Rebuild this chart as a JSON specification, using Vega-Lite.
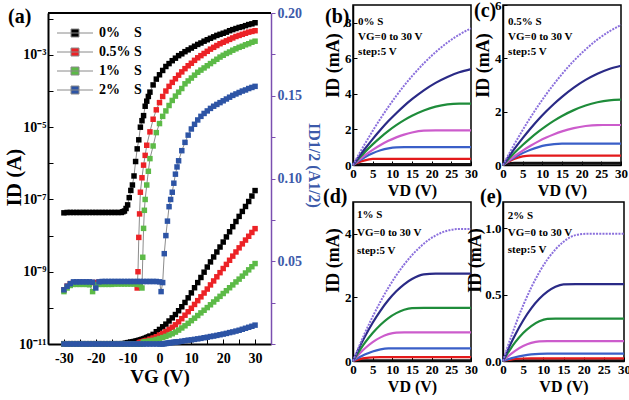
{
"$schema":"https://vega.github.io/schema/vega-lite/v6.json",
"padding":{"left":3,"top":-2,"right":0,"bottom":0},
"config":{
 "font":"Liberation Serif",
 "view":{"stroke":"black","strokeWidth":1.5},
 "axis":{"grid":false,"domainColor":"black","domainWidth":1.5,"tickColor":"black","tickSize":-4,"labelFontWeight":"bold","titleFontWeight":"bold","labelColor":"black","titleColor":"black","labelFontSize":13,"titleFontSize":18,"labelPadding":6,"titlePadding":2,"labelFont":"Liberation Serif","titleFont":"Liberation Serif","labelOverlap":false,"tickCount":100},
 "axisX":{"titleFontSize":16,"labelFlush":false},
 "title":{"font":"Liberation Serif","fontWeight":"bold","fontSize":20,"anchor":"start","offset":0,"frame":"group","color":"black"},
 "text":{"font":"Liberation Serif"}
},
"datasets":{
"a":[
{"s":"0%","v":-30,"l":-7.37,"q":0.0002},{"s":"0%","v":-29,"l":-7.36,"q":0.0002},{"s":"0%","v":-28,"l":-7.36,"q":0.0002},{"s":"0%","v":-27,"l":-7.36,"q":0.0002},{"s":"0%","v":-26,"l":-7.36,"q":0.0002},{"s":"0%","v":-25,"l":-7.36,"q":0.0002},{"s":"0%","v":-24,"l":-7.36,"q":0.0002},{"s":"0%","v":-23,"l":-7.36,"q":0.0002},{"s":"0%","v":-22,"l":-7.36,"q":0.0002},{"s":"0%","v":-21,"l":-7.36,"q":0.0002},{"s":"0%","v":-20,"l":-7.36,"q":0.0002},{"s":"0%","v":-19,"l":-7.36,"q":0.0002},{"s":"0%","v":-18,"l":-7.36,"q":0.0002},{"s":"0%","v":-17,"l":-7.36,"q":0.0002},{"s":"0%","v":-16,"l":-7.36,"q":0.0002},{"s":"0%","v":-15,"l":-7.36,"q":0.0002},{"s":"0%","v":-14,"l":-7.36,"q":0.0002},{"s":"0%","v":-13,"l":-7.36,"q":0.0002},{"s":"0%","v":-12,"l":-7.36,"q":0.0002},{"s":"0%","v":-11.5,"l":-7.34,"q":0.0002},{"s":"0%","v":-11,"l":-7.32,"q":0.0003},{"s":"0%","v":-10.5,"l":-7.25,"q":0.0005},{"s":"0%","v":-10,"l":-7.15,"q":0.0008},{"s":"0%","v":-9.5,"l":-6.95,"q":0.0009},{"s":"0%","v":-9,"l":-6.75,"q":0.0011},{"s":"0%","v":-8.5,"l":-6.6,"q":0.0013},{"s":"0%","v":-8,"l":-6.35,"q":0.0015},{"s":"0%","v":-7.5,"l":-5.95,"q":0.0017},{"s":"0%","v":-7,"l":-5.6,"q":0.002},{"s":"0%","v":-6.5,"l":-5.35,"q":0.0022},{"s":"0%","v":-6,"l":-5.0,"q":0.0025},{"s":"0%","v":-5.5,"l":-4.82,"q":0.0028},{"s":"0%","v":-5,"l":-4.68,"q":0.0031},{"s":"0%","v":-4.5,"l":-4.42,"q":0.0035},{"s":"0%","v":-4,"l":-4.28,"q":0.0039},{"s":"0%","v":-3.5,"l":-4.15,"q":0.0043},{"s":"0%","v":-3,"l":-4.03,"q":0.0048},{"s":"0%","v":-2,"l":-3.83,"q":0.0058},{"s":"0%","v":-1,"l":-3.67,"q":0.0074},{"s":"0%","v":0,"l":-3.55,"q":0.0088},{"s":"0%","v":1,"l":-3.43,"q":0.0104},{"s":"0%","v":2,"l":-3.32,"q":0.012},{"s":"0%","v":3,"l":-3.24,"q":0.0139},{"s":"0%","v":4,"l":-3.16,"q":0.0158},{"s":"0%","v":5,"l":-3.09,"q":0.0178},{"s":"0%","v":6,"l":-3.02,"q":0.0201},{"s":"0%","v":7,"l":-2.97,"q":0.0225},{"s":"0%","v":8,"l":-2.91,"q":0.0251},{"s":"0%","v":9,"l":-2.86,"q":0.0279},{"s":"0%","v":10,"l":-2.81,"q":0.0309},{"s":"0%","v":11,"l":-2.76,"q":0.034},{"s":"0%","v":12,"l":-2.71,"q":0.0371},{"s":"0%","v":13,"l":-2.67,"q":0.0402},{"s":"0%","v":14,"l":-2.62,"q":0.0434},{"s":"0%","v":15,"l":-2.58,"q":0.0465},{"s":"0%","v":16,"l":-2.54,"q":0.0496},{"s":"0%","v":17,"l":-2.5,"q":0.0526},{"s":"0%","v":18,"l":-2.46,"q":0.0556},{"s":"0%","v":19,"l":-2.43,"q":0.0586},{"s":"0%","v":20,"l":-2.4,"q":0.0616},{"s":"0%","v":21,"l":-2.37,"q":0.0647},{"s":"0%","v":22,"l":-2.33,"q":0.0678},{"s":"0%","v":23,"l":-2.3,"q":0.0709},{"s":"0%","v":24,"l":-2.27,"q":0.074},{"s":"0%","v":25,"l":-2.24,"q":0.0771},{"s":"0%","v":26,"l":-2.22,"q":0.0801},{"s":"0%","v":27,"l":-2.19,"q":0.0831},{"s":"0%","v":28,"l":-2.16,"q":0.0861},{"s":"0%","v":29,"l":-2.14,"q":0.0894},{"s":"0%","v":30,"l":-2.11,"q":0.0927},
{"s":"0.5%","v":-30,"l":-9.5,"q":0},{"s":"0.5%","v":-29,"l":-9.4,"q":0},{"s":"0.5%","v":-28,"l":-9.33,"q":0},{"s":"0.5%","v":-27,"l":-9.31,"q":0},{"s":"0.5%","v":-26,"l":-9.3,"q":0},{"s":"0.5%","v":-25,"l":-9.3,"q":0},{"s":"0.5%","v":-24,"l":-9.3,"q":0},{"s":"0.5%","v":-23,"l":-9.3,"q":0},{"s":"0.5%","v":-22,"l":-9.3,"q":0},{"s":"0.5%","v":-21,"l":-9.3,"q":0},{"s":"0.5%","v":-20,"l":-9.3,"q":0},{"s":"0.5%","v":-19,"l":-9.29,"q":0},{"s":"0.5%","v":-18,"l":-9.29,"q":0},{"s":"0.5%","v":-17,"l":-9.29,"q":0},{"s":"0.5%","v":-16,"l":-9.29,"q":0},{"s":"0.5%","v":-15,"l":-9.29,"q":0},{"s":"0.5%","v":-14,"l":-9.29,"q":0},{"s":"0.5%","v":-13,"l":-9.28,"q":0},{"s":"0.5%","v":-12,"l":-9.28,"q":0},{"s":"0.5%","v":-11,"l":-9.28,"q":0},{"s":"0.5%","v":-10,"l":-9.28,"q":0},{"s":"0.5%","v":-9,"l":-9.28,"q":0},{"s":"0.5%","v":-8,"l":-9.29,"q":0},{"s":"0.5%","v":-7.5,"l":-9.3,"q":0},{"s":"0.5%","v":-7,"l":-9.45,"q":0},{"s":"0.5%","v":-6.75,"l":-9.0,"q":0.0002},{"s":"0.5%","v":-6.5,"l":-8.05,"q":0.0004},{"s":"0.5%","v":-6.25,"l":-7.4,"q":0.0007},{"s":"0.5%","v":-6,"l":-6.8,"q":0.0011},{"s":"0.5%","v":-5.5,"l":-6.4,"q":0.0013},{"s":"0.5%","v":-5,"l":-6.05,"q":0.0016},{"s":"0.5%","v":-4.5,"l":-5.78,"q":0.0019},{"s":"0.5%","v":-4,"l":-5.5,"q":0.0022},{"s":"0.5%","v":-3,"l":-5.13,"q":0.0029},{"s":"0.5%","v":-2,"l":-4.78,"q":0.0036},{"s":"0.5%","v":-1,"l":-4.52,"q":0.0044},{"s":"0.5%","v":0,"l":-4.32,"q":0.0054},{"s":"0.5%","v":1,"l":-4.15,"q":0.0064},{"s":"0.5%","v":2,"l":-4.0,"q":0.0075},{"s":"0.5%","v":3,"l":-3.87,"q":0.0088},{"s":"0.5%","v":4,"l":-3.76,"q":0.0101},{"s":"0.5%","v":5,"l":-3.66,"q":0.0116},{"s":"0.5%","v":6,"l":-3.56,"q":0.0134},{"s":"0.5%","v":7,"l":-3.47,"q":0.0153},{"s":"0.5%","v":8,"l":-3.38,"q":0.0174},{"s":"0.5%","v":9,"l":-3.3,"q":0.0195},{"s":"0.5%","v":10,"l":-3.23,"q":0.0216},{"s":"0.5%","v":11,"l":-3.15,"q":0.0239},{"s":"0.5%","v":12,"l":-3.08,"q":0.0262},{"s":"0.5%","v":13,"l":-3.02,"q":0.0285},{"s":"0.5%","v":14,"l":-2.96,"q":0.0308},{"s":"0.5%","v":15,"l":-2.9,"q":0.0332},{"s":"0.5%","v":16,"l":-2.84,"q":0.0357},{"s":"0.5%","v":17,"l":-2.79,"q":0.0381},{"s":"0.5%","v":18,"l":-2.74,"q":0.0406},{"s":"0.5%","v":19,"l":-2.69,"q":0.0431},{"s":"0.5%","v":20,"l":-2.65,"q":0.0456},{"s":"0.5%","v":21,"l":-2.61,"q":0.0481},{"s":"0.5%","v":22,"l":-2.57,"q":0.0506},{"s":"0.5%","v":23,"l":-2.53,"q":0.0531},{"s":"0.5%","v":24,"l":-2.49,"q":0.0556},{"s":"0.5%","v":25,"l":-2.46,"q":0.0581},{"s":"0.5%","v":26,"l":-2.43,"q":0.0605},{"s":"0.5%","v":27,"l":-2.4,"q":0.0628},{"s":"0.5%","v":28,"l":-2.37,"q":0.0651},{"s":"0.5%","v":29,"l":-2.35,"q":0.0674},{"s":"0.5%","v":30,"l":-2.33,"q":0.0697},
{"s":"1%","v":-30,"l":-9.55,"q":0},{"s":"1%","v":-29,"l":-9.45,"q":0},{"s":"1%","v":-28,"l":-9.38,"q":0},{"s":"1%","v":-27,"l":-9.35,"q":0},{"s":"1%","v":-26,"l":-9.35,"q":0},{"s":"1%","v":-25,"l":-9.35,"q":0},{"s":"1%","v":-24,"l":-9.35,"q":0},{"s":"1%","v":-23,"l":-9.35,"q":0},{"s":"1%","v":-22,"l":-9.36,"q":0},{"s":"1%","v":-21,"l":-9.55,"q":0},{"s":"1%","v":-20,"l":-9.36,"q":0},{"s":"1%","v":-19,"l":-9.35,"q":0},{"s":"1%","v":-18,"l":-9.35,"q":0},{"s":"1%","v":-17,"l":-9.35,"q":0},{"s":"1%","v":-16,"l":-9.35,"q":0},{"s":"1%","v":-15,"l":-9.35,"q":0},{"s":"1%","v":-14,"l":-9.34,"q":0},{"s":"1%","v":-13,"l":-9.34,"q":0},{"s":"1%","v":-12,"l":-9.34,"q":0},{"s":"1%","v":-11,"l":-9.34,"q":0},{"s":"1%","v":-10,"l":-9.34,"q":0},{"s":"1%","v":-9,"l":-9.34,"q":0},{"s":"1%","v":-8,"l":-9.34,"q":0},{"s":"1%","v":-7,"l":-9.35,"q":0},{"s":"1%","v":-6,"l":-9.36,"q":0},{"s":"1%","v":-5.5,"l":-9.45,"q":0},{"s":"1%","v":-5.25,"l":-8.6,"q":0.0004},{"s":"1%","v":-5,"l":-7.8,"q":0.0011},{"s":"1%","v":-4.75,"l":-7.3,"q":0.0012},{"s":"1%","v":-4.5,"l":-7.0,"q":0.0013},{"s":"1%","v":-4,"l":-6.6,"q":0.0014},{"s":"1%","v":-3.5,"l":-6.22,"q":0.0016},{"s":"1%","v":-3,"l":-5.87,"q":0.0018},{"s":"1%","v":-2,"l":-5.52,"q":0.0022},{"s":"1%","v":-1,"l":-5.15,"q":0.0027},{"s":"1%","v":0,"l":-4.9,"q":0.0033},{"s":"1%","v":1,"l":-4.7,"q":0.0039},{"s":"1%","v":2,"l":-4.55,"q":0.0046},{"s":"1%","v":3,"l":-4.4,"q":0.0054},{"s":"1%","v":4,"l":-4.26,"q":0.0062},{"s":"1%","v":5,"l":-4.14,"q":0.0072},{"s":"1%","v":6,"l":-4.03,"q":0.0084},{"s":"1%","v":7,"l":-3.93,"q":0.0097},{"s":"1%","v":8,"l":-3.8,"q":0.011},{"s":"1%","v":9,"l":-3.72,"q":0.0125},{"s":"1%","v":10,"l":-3.64,"q":0.0141},{"s":"1%","v":11,"l":-3.56,"q":0.0156},{"s":"1%","v":12,"l":-3.48,"q":0.0172},{"s":"1%","v":13,"l":-3.42,"q":0.0188},{"s":"1%","v":14,"l":-3.36,"q":0.0204},{"s":"1%","v":15,"l":-3.3,"q":0.022},{"s":"1%","v":16,"l":-3.24,"q":0.0237},{"s":"1%","v":17,"l":-3.18,"q":0.0254},{"s":"1%","v":18,"l":-3.12,"q":0.0271},{"s":"1%","v":19,"l":-3.06,"q":0.0288},{"s":"1%","v":20,"l":-3.01,"q":0.0305},{"s":"1%","v":21,"l":-2.96,"q":0.0322},{"s":"1%","v":22,"l":-2.92,"q":0.034},{"s":"1%","v":23,"l":-2.87,"q":0.0357},{"s":"1%","v":24,"l":-2.83,"q":0.0375},{"s":"1%","v":25,"l":-2.79,"q":0.0392},{"s":"1%","v":26,"l":-2.76,"q":0.041},{"s":"1%","v":27,"l":-2.72,"q":0.0429},{"s":"1%","v":28,"l":-2.69,"q":0.0448},{"s":"1%","v":29,"l":-2.65,"q":0.0467},{"s":"1%","v":30,"l":-2.62,"q":0.0486},
{"s":"2%","v":-30,"l":-9.5,"q":0},{"s":"2%","v":-29,"l":-9.4,"q":0},{"s":"2%","v":-28,"l":-9.33,"q":0},{"s":"2%","v":-27,"l":-9.28,"q":0},{"s":"2%","v":-26,"l":-9.28,"q":0},{"s":"2%","v":-25,"l":-9.28,"q":0},{"s":"2%","v":-24,"l":-9.28,"q":0},{"s":"2%","v":-23,"l":-9.28,"q":0},{"s":"2%","v":-22,"l":-9.28,"q":0},{"s":"2%","v":-21,"l":-9.29,"q":0},{"s":"2%","v":-20,"l":-9.45,"q":0},{"s":"2%","v":-19,"l":-9.28,"q":0},{"s":"2%","v":-18,"l":-9.27,"q":0},{"s":"2%","v":-17,"l":-9.27,"q":0},{"s":"2%","v":-16,"l":-9.27,"q":0},{"s":"2%","v":-15,"l":-9.27,"q":0},{"s":"2%","v":-14,"l":-9.27,"q":0},{"s":"2%","v":-13,"l":-9.27,"q":0},{"s":"2%","v":-12,"l":-9.27,"q":0},{"s":"2%","v":-11,"l":-9.27,"q":0},{"s":"2%","v":-10,"l":-9.27,"q":0},{"s":"2%","v":-9,"l":-9.27,"q":0},{"s":"2%","v":-8,"l":-9.27,"q":0},{"s":"2%","v":-7,"l":-9.27,"q":0},{"s":"2%","v":-6,"l":-9.27,"q":0},{"s":"2%","v":-5,"l":-9.27,"q":0},{"s":"2%","v":-4,"l":-9.27,"q":0},{"s":"2%","v":-3,"l":-9.27,"q":0},{"s":"2%","v":-2,"l":-9.27,"q":0},{"s":"2%","v":-1,"l":-9.27,"q":0},{"s":"2%","v":0,"l":-9.28,"q":0},{"s":"2%","v":0.5,"l":-9.55,"q":0},{"s":"2%","v":1,"l":-9.3,"q":0},{"s":"2%","v":1.5,"l":-8.5,"q":0.0002},{"s":"2%","v":2,"l":-8.0,"q":0.0003},{"s":"2%","v":2.5,"l":-7.6,"q":0.0005},{"s":"2%","v":3,"l":-7.2,"q":0.0007},{"s":"2%","v":3.5,"l":-7.0,"q":0.0008},{"s":"2%","v":4,"l":-6.8,"q":0.0009},{"s":"2%","v":4.5,"l":-6.55,"q":0.001},{"s":"2%","v":5,"l":-6.3,"q":0.0012},{"s":"2%","v":5.5,"l":-6.1,"q":0.0013},{"s":"2%","v":6,"l":-5.93,"q":0.0014},{"s":"2%","v":7,"l":-5.65,"q":0.0017},{"s":"2%","v":8,"l":-5.42,"q":0.002},{"s":"2%","v":9,"l":-5.22,"q":0.0023},{"s":"2%","v":10,"l":-5.05,"q":0.0025},{"s":"2%","v":11,"l":-4.92,"q":0.0028},{"s":"2%","v":12,"l":-4.8,"q":0.0031},{"s":"2%","v":13,"l":-4.7,"q":0.0034},{"s":"2%","v":14,"l":-4.62,"q":0.0038},{"s":"2%","v":15,"l":-4.55,"q":0.0041},{"s":"2%","v":16,"l":-4.48,"q":0.0045},{"s":"2%","v":17,"l":-4.42,"q":0.0048},{"s":"2%","v":18,"l":-4.37,"q":0.0052},{"s":"2%","v":19,"l":-4.32,"q":0.0056},{"s":"2%","v":20,"l":-4.27,"q":0.006},{"s":"2%","v":21,"l":-4.22,"q":0.0064},{"s":"2%","v":22,"l":-4.17,"q":0.0069},{"s":"2%","v":23,"l":-4.12,"q":0.0073},{"s":"2%","v":24,"l":-4.08,"q":0.0078},{"s":"2%","v":25,"l":-4.04,"q":0.0083},{"s":"2%","v":26,"l":-4.0,"q":0.0089},{"s":"2%","v":27,"l":-3.97,"q":0.0095},{"s":"2%","v":28,"l":-3.93,"q":0.0101},{"s":"2%","v":29,"l":-3.9,"q":0.0107},{"s":"2%","v":30,"l":-3.87,"q":0.0114}
],
"b":[
{"g":0,"v":0,"i":0},{"g":0,"v":1,"i":0.028},{"g":0,"v":2,"i":0.044},{"g":0,"v":3,"i":0.05},{"g":0,"v":5,"i":0.05},{"g":0,"v":7,"i":0.05},{"g":0,"v":9,"i":0.05},{"g":0,"v":11,"i":0.05},{"g":0,"v":13,"i":0.05},{"g":0,"v":15,"i":0.05},{"g":0,"v":18,"i":0.05},{"g":0,"v":21,"i":0.05},{"g":0,"v":24,"i":0.05},{"g":0,"v":27,"i":0.05},{"g":0,"v":30,"i":0.05},
{"g":5,"v":0,"i":0},{"g":5,"v":1,"i":0.107},{"g":5,"v":2,"i":0.195},{"g":5,"v":3,"i":0.263},{"g":5,"v":5,"i":0.34},{"g":5,"v":7,"i":0.35},{"g":5,"v":9,"i":0.35},{"g":5,"v":11,"i":0.35},{"g":5,"v":13,"i":0.35},{"g":5,"v":15,"i":0.35},{"g":5,"v":18,"i":0.35},{"g":5,"v":21,"i":0.35},{"g":5,"v":24,"i":0.35},{"g":5,"v":27,"i":0.35},{"g":5,"v":30,"i":0.35},
{"g":10,"v":0,"i":0},{"g":10,"v":1,"i":0.16},{"g":10,"v":2,"i":0.306},{"g":10,"v":3,"i":0.438},{"g":10,"v":5,"i":0.66},{"g":10,"v":7,"i":0.826},{"g":10,"v":9,"i":0.938},{"g":10,"v":11,"i":0.993},{"g":10,"v":13,"i":1},{"g":10,"v":15,"i":1},{"g":10,"v":18,"i":1},{"g":10,"v":21,"i":1},{"g":10,"v":24,"i":1},{"g":10,"v":27,"i":1},{"g":10,"v":30,"i":1},
{"g":15,"v":0,"i":0},{"g":15,"v":1,"i":0.19},{"g":15,"v":2,"i":0.371},{"g":15,"v":3,"i":0.541},{"g":15,"v":5,"i":0.853},{"g":15,"v":7,"i":1.126},{"g":15,"v":9,"i":1.36},{"g":15,"v":11,"i":1.555},{"g":15,"v":13,"i":1.711},{"g":15,"v":15,"i":1.828},{"g":15,"v":18,"i":1.931},{"g":15,"v":21,"i":1.95},{"g":15,"v":24,"i":1.95},{"g":15,"v":27,"i":1.95},{"g":15,"v":30,"i":1.95},
{"g":20,"v":0,"i":0},{"g":20,"v":1,"i":0.251},{"g":20,"v":2,"i":0.492},{"g":20,"v":3,"i":0.725},{"g":20,"v":5,"i":1.159},{"g":20,"v":7,"i":1.556},{"g":20,"v":9,"i":1.918},{"g":20,"v":11,"i":2.239},{"g":20,"v":13,"i":2.522},{"g":20,"v":15,"i":2.767},{"g":20,"v":18,"i":3.067},{"g":20,"v":21,"i":3.281},{"g":20,"v":24,"i":3.409},{"g":20,"v":27,"i":3.45},{"g":20,"v":30,"i":3.45},
{"g":25,"v":0,"i":0},{"g":25,"v":1,"i":0.31},{"g":25,"v":2,"i":0.61},{"g":25,"v":3,"i":0.9},{"g":25,"v":5,"i":1.458},{"g":25,"v":7,"i":1.98},{"g":25,"v":9,"i":2.47},{"g":25,"v":11,"i":2.915},{"g":25,"v":13,"i":3.328},{"g":25,"v":15,"i":3.7},{"g":25,"v":18,"i":4.2},{"g":25,"v":21,"i":4.62},{"g":25,"v":24,"i":4.956},{"g":25,"v":27,"i":5.214},{"g":25,"v":30,"i":5.39},
{"g":30,"v":0,"i":0},{"g":30,"v":1,"i":0.405},{"g":30,"v":2,"i":0.8},{"g":30,"v":3,"i":1.18},{"g":30,"v":5,"i":1.919},{"g":30,"v":7,"i":2.616},{"g":30,"v":9,"i":3.272},{"g":30,"v":11,"i":3.887},{"g":30,"v":13,"i":4.461},{"g":30,"v":15,"i":4.994},{"g":30,"v":18,"i":5.72},{"g":30,"v":21,"i":6.347},{"g":30,"v":24,"i":6.888},{"g":30,"v":27,"i":7.331},{"g":30,"v":30,"i":7.688}
],
"c":[
{"g":0,"v":0,"i":0},{"g":0,"v":1,"i":0.044},{"g":0,"v":2,"i":0.071},{"g":0,"v":3,"i":0.08},{"g":0,"v":5,"i":0.08},{"g":0,"v":7,"i":0.08},{"g":0,"v":9,"i":0.08},{"g":0,"v":11,"i":0.08},{"g":0,"v":13,"i":0.08},{"g":0,"v":15,"i":0.08},{"g":0,"v":18,"i":0.08},{"g":0,"v":21,"i":0.08},{"g":0,"v":24,"i":0.08},{"g":0,"v":27,"i":0.08},{"g":0,"v":30,"i":0.08},
{"g":5,"v":0,"i":0},{"g":5,"v":1,"i":0.093},{"g":5,"v":2,"i":0.172},{"g":5,"v":3,"i":0.236},{"g":5,"v":5,"i":0.321},{"g":5,"v":7,"i":0.35},{"g":5,"v":9,"i":0.35},{"g":5,"v":11,"i":0.35},{"g":5,"v":13,"i":0.35},{"g":5,"v":15,"i":0.35},{"g":5,"v":18,"i":0.35},{"g":5,"v":21,"i":0.35},{"g":5,"v":24,"i":0.35},{"g":5,"v":27,"i":0.35},{"g":5,"v":30,"i":0.35},
{"g":10,"v":0,"i":0},{"g":10,"v":1,"i":0.103},{"g":10,"v":2,"i":0.199},{"g":10,"v":3,"i":0.288},{"g":10,"v":5,"i":0.445},{"g":10,"v":7,"i":0.573},{"g":10,"v":9,"i":0.672},{"g":10,"v":11,"i":0.743},{"g":10,"v":13,"i":0.786},{"g":10,"v":15,"i":0.8},{"g":10,"v":18,"i":0.8},{"g":10,"v":21,"i":0.8},{"g":10,"v":24,"i":0.8},{"g":10,"v":27,"i":0.8},{"g":10,"v":30,"i":0.8},
{"g":15,"v":0,"i":0},{"g":15,"v":1,"i":0.118},{"g":15,"v":2,"i":0.23},{"g":15,"v":3,"i":0.338},{"g":15,"v":5,"i":0.54},{"g":15,"v":7,"i":0.722},{"g":15,"v":9,"i":0.886},{"g":15,"v":11,"i":1.03},{"g":15,"v":13,"i":1.154},{"g":15,"v":15,"i":1.26},{"g":15,"v":18,"i":1.382},{"g":15,"v":21,"i":1.462},{"g":15,"v":24,"i":1.498},{"g":15,"v":27,"i":1.5},{"g":15,"v":30,"i":1.5},
{"g":20,"v":0,"i":0},{"g":20,"v":1,"i":0.161},{"g":20,"v":2,"i":0.316},{"g":20,"v":3,"i":0.466},{"g":20,"v":5,"i":0.75},{"g":20,"v":7,"i":1.01},{"g":20,"v":9,"i":1.25},{"g":20,"v":11,"i":1.468},{"g":20,"v":13,"i":1.664},{"g":20,"v":15,"i":1.838},{"g":20,"v":18,"i":2.058},{"g":20,"v":21,"i":2.23},{"g":20,"v":24,"i":2.352},{"g":20,"v":27,"i":2.426},{"g":20,"v":30,"i":2.45},
{"g":25,"v":0,"i":0},{"g":25,"v":1,"i":0.214},{"g":25,"v":2,"i":0.422},{"g":25,"v":3,"i":0.623},{"g":25,"v":5,"i":1.007},{"g":25,"v":7,"i":1.368},{"g":25,"v":9,"i":1.706},{"g":25,"v":11,"i":2.014},{"g":25,"v":13,"i":2.299},{"g":25,"v":15,"i":2.557},{"g":25,"v":18,"i":2.903},{"g":25,"v":21,"i":3.192},{"g":25,"v":24,"i":3.424},{"g":25,"v":27,"i":3.602},{"g":25,"v":30,"i":3.724},
{"g":30,"v":0,"i":0},{"g":30,"v":1,"i":0.277},{"g":30,"v":2,"i":0.546},{"g":30,"v":3,"i":0.806},{"g":30,"v":5,"i":1.31},{"g":30,"v":7,"i":1.786},{"g":30,"v":9,"i":2.234},{"g":30,"v":11,"i":2.654},{"g":30,"v":13,"i":3.046},{"g":30,"v":15,"i":3.41},{"g":30,"v":18,"i":3.906},{"g":30,"v":21,"i":4.334},{"g":30,"v":24,"i":4.704},{"g":30,"v":27,"i":5.006},{"g":30,"v":30,"i":5.25}
],
"d":[
{"g":0,"v":0,"i":0},{"g":0,"v":1,"i":0.011},{"g":0,"v":2,"i":0.018},{"g":0,"v":3,"i":0.02},{"g":0,"v":5,"i":0.02},{"g":0,"v":7,"i":0.02},{"g":0,"v":9,"i":0.02},{"g":0,"v":11,"i":0.02},{"g":0,"v":13,"i":0.02},{"g":0,"v":15,"i":0.02},{"g":0,"v":18,"i":0.02},{"g":0,"v":21,"i":0.02},{"g":0,"v":24,"i":0.02},{"g":0,"v":27,"i":0.02},{"g":0,"v":30,"i":0.02},
{"g":5,"v":0,"i":0},{"g":5,"v":1,"i":0.037},{"g":5,"v":2,"i":0.067},{"g":5,"v":3,"i":0.09},{"g":5,"v":5,"i":0.117},{"g":5,"v":7,"i":0.12},{"g":5,"v":9,"i":0.12},{"g":5,"v":11,"i":0.12},{"g":5,"v":13,"i":0.12},{"g":5,"v":15,"i":0.12},{"g":5,"v":18,"i":0.12},{"g":5,"v":21,"i":0.12},{"g":5,"v":24,"i":0.12},{"g":5,"v":27,"i":0.12},{"g":5,"v":30,"i":0.12},
{"g":10,"v":0,"i":0},{"g":10,"v":1,"i":0.076},{"g":10,"v":2,"i":0.144},{"g":10,"v":3,"i":0.204},{"g":10,"v":5,"i":0.3},{"g":10,"v":7,"i":0.364},{"g":10,"v":9,"i":0.396},{"g":10,"v":11,"i":0.4},{"g":10,"v":13,"i":0.4},{"g":10,"v":15,"i":0.4},{"g":10,"v":18,"i":0.4},{"g":10,"v":21,"i":0.4},{"g":10,"v":24,"i":0.4},{"g":10,"v":27,"i":0.4},{"g":10,"v":30,"i":0.4},
{"g":15,"v":0,"i":0},{"g":15,"v":1,"i":0.144},{"g":15,"v":2,"i":0.275},{"g":15,"v":3,"i":0.394},{"g":15,"v":5,"i":0.594},{"g":15,"v":7,"i":0.743},{"g":15,"v":9,"i":0.844},{"g":15,"v":11,"i":0.894},{"g":15,"v":13,"i":0.9},{"g":15,"v":15,"i":0.9},{"g":15,"v":18,"i":0.9},{"g":15,"v":21,"i":0.9},{"g":15,"v":24,"i":0.9},{"g":15,"v":27,"i":0.9},{"g":15,"v":30,"i":0.9},
{"g":20,"v":0,"i":0},{"g":20,"v":1,"i":0.202},{"g":20,"v":2,"i":0.391},{"g":20,"v":3,"i":0.568},{"g":20,"v":5,"i":0.88},{"g":20,"v":7,"i":1.142},{"g":20,"v":9,"i":1.351},{"g":20,"v":11,"i":1.506},{"g":20,"v":13,"i":1.612},{"g":20,"v":15,"i":1.663},{"g":20,"v":18,"i":1.67},{"g":20,"v":21,"i":1.67},{"g":20,"v":24,"i":1.67},{"g":20,"v":27,"i":1.67},{"g":20,"v":30,"i":1.67},
{"g":25,"v":0,"i":0},{"g":25,"v":1,"i":0.268},{"g":25,"v":2,"i":0.523},{"g":25,"v":3,"i":0.763},{"g":25,"v":5,"i":1.203},{"g":25,"v":7,"i":1.588},{"g":25,"v":9,"i":1.918},{"g":25,"v":11,"i":2.193},{"g":25,"v":13,"i":2.413},{"g":25,"v":15,"i":2.578},{"g":25,"v":18,"i":2.723},{"g":25,"v":21,"i":2.75},{"g":25,"v":24,"i":2.75},{"g":25,"v":27,"i":2.75},{"g":25,"v":30,"i":2.75},
{"g":30,"v":0,"i":0},{"g":30,"v":1,"i":0.302},{"g":30,"v":2,"i":0.592},{"g":30,"v":3,"i":0.872},{"g":30,"v":5,"i":1.394},{"g":30,"v":7,"i":1.872},{"g":30,"v":9,"i":2.307},{"g":30,"v":11,"i":2.693},{"g":30,"v":13,"i":3.034},{"g":30,"v":15,"i":3.328},{"g":30,"v":18,"i":3.689},{"g":30,"v":21,"i":3.947},{"g":30,"v":24,"i":4.1},{"g":30,"v":27,"i":4.15},{"g":30,"v":30,"i":4.15}
],
"e":[
{"g":0,"v":0,"i":0},{"g":0,"v":1,"i":0.003},{"g":0,"v":2,"i":0.0044},{"g":0,"v":3,"i":0.005},{"g":0,"v":5,"i":0.005},{"g":0,"v":7,"i":0.005},{"g":0,"v":9,"i":0.005},{"g":0,"v":11,"i":0.005},{"g":0,"v":13,"i":0.005},{"g":0,"v":15,"i":0.005},{"g":0,"v":18,"i":0.005},{"g":0,"v":21,"i":0.005},{"g":0,"v":24,"i":0.005},{"g":0,"v":27,"i":0.005},{"g":0,"v":30,"i":0.005},
{"g":5,"v":0,"i":0},{"g":5,"v":1,"i":0.006},{"g":5,"v":2,"i":0.011},{"g":5,"v":3,"i":0.015},{"g":5,"v":5,"i":0.019},{"g":5,"v":7,"i":0.02},{"g":5,"v":9,"i":0.02},{"g":5,"v":11,"i":0.02},{"g":5,"v":13,"i":0.02},{"g":5,"v":15,"i":0.02},{"g":5,"v":18,"i":0.02},{"g":5,"v":21,"i":0.02},{"g":5,"v":24,"i":0.02},{"g":5,"v":27,"i":0.02},{"g":5,"v":30,"i":0.02},
{"g":10,"v":0,"i":0},{"g":10,"v":1,"i":0.0105},{"g":10,"v":2,"i":0.0198},{"g":10,"v":3,"i":0.028},{"g":10,"v":5,"i":0.041},{"g":10,"v":7,"i":0.05},{"g":10,"v":9,"i":0.054},{"g":10,"v":11,"i":0.055},{"g":10,"v":13,"i":0.055},{"g":10,"v":15,"i":0.055},{"g":10,"v":18,"i":0.055},{"g":10,"v":21,"i":0.055},{"g":10,"v":24,"i":0.055},{"g":10,"v":27,"i":0.055},{"g":10,"v":30,"i":0.055},
{"g":15,"v":0,"i":0},{"g":15,"v":1,"i":0.0285},{"g":15,"v":2,"i":0.054},{"g":15,"v":3,"i":0.0765},{"g":15,"v":5,"i":0.1125},{"g":15,"v":7,"i":0.1365},{"g":15,"v":9,"i":0.1485},{"g":15,"v":11,"i":0.15},{"g":15,"v":13,"i":0.15},{"g":15,"v":15,"i":0.15},{"g":15,"v":18,"i":0.15},{"g":15,"v":21,"i":0.15},{"g":15,"v":24,"i":0.15},{"g":15,"v":27,"i":0.15},{"g":15,"v":30,"i":0.15},
{"g":20,"v":0,"i":0},{"g":20,"v":1,"i":0.051},{"g":20,"v":2,"i":0.098},{"g":20,"v":3,"i":0.14},{"g":20,"v":5,"i":0.211},{"g":20,"v":7,"i":0.264},{"g":20,"v":9,"i":0.3},{"g":20,"v":11,"i":0.318},{"g":20,"v":13,"i":0.32},{"g":20,"v":15,"i":0.32},{"g":20,"v":18,"i":0.32},{"g":20,"v":21,"i":0.32},{"g":20,"v":24,"i":0.32},{"g":20,"v":27,"i":0.32},{"g":20,"v":30,"i":0.32},
{"g":25,"v":0,"i":0},{"g":25,"v":1,"i":0.07},{"g":25,"v":2,"i":0.136},{"g":25,"v":3,"i":0.197},{"g":25,"v":5,"i":0.306},{"g":25,"v":7,"i":0.397},{"g":25,"v":9,"i":0.469},{"g":25,"v":11,"i":0.523},{"g":25,"v":13,"i":0.56},{"g":25,"v":15,"i":0.578},{"g":25,"v":18,"i":0.58},{"g":25,"v":21,"i":0.58},{"g":25,"v":24,"i":0.58},{"g":25,"v":27,"i":0.58},{"g":25,"v":30,"i":0.58},
{"g":30,"v":0,"i":0},{"g":30,"v":1,"i":0.094},{"g":30,"v":2,"i":0.182},{"g":30,"v":3,"i":0.266},{"g":30,"v":5,"i":0.42},{"g":30,"v":7,"i":0.554},{"g":30,"v":9,"i":0.67},{"g":30,"v":11,"i":0.766},{"g":30,"v":13,"i":0.842},{"g":30,"v":15,"i":0.9},{"g":30,"v":18,"i":0.95},{"g":30,"v":21,"i":0.96},{"g":30,"v":24,"i":0.96},{"g":30,"v":27,"i":0.96},{"g":30,"v":30,"i":0.96}
]
},
"columns":3,
"spacing":{"row":37,"column":32},
"bounds":"flush",
"concat":[
{
 "width":273,"height":160,
 "view":{"stroke":null},
 "title":{"text":"(a)","dx":-40,"dy":26},
 "data":{"name":"a"},
 "layer":[
  {"layer":[
    {"data":{"values":[{}]},"mark":{"type":"rule","color":"black","strokeWidth":2},"encoding":{"y":{"datum":-1.84,"type":"quantitative"},"x":{"datum":-35,"type":"quantitative"},"x2":{"datum":35}}},
    {"mark":{"type":"line","color":"#8c8c8c","strokeWidth":1},
     "encoding":{
      "x":{"field":"v","type":"quantitative","scale":{"domain":[-35,35],"range":[0,223],"nice":false,"zero":false},"axis":{"title":"VG (V)","offset":179,"values":[-35,-30,-25,-20,-15,-10,-5,0,5,10,15,20,25,30,35],"labelExpr":"abs(datum.value) <= 30 && datum.value % 10 == 0 ? '' + datum.value : ''","tickCount":100,"labelOverlap":false,"labelBound":false,"tickSize":-5,"domainWidth":2,"labelFontSize":14,"titleFontSize":19,"labelPadding":12,"titlePadding":2}},
      "y":{"field":"l","type":"quantitative","scale":{"domain":[-11,-1.84],"range":[339,8],"nice":false,"zero":false},"axis":{"title":"ID (A)","values":[-11,-10,-9,-8,-7,-6,-5,-4,-3,-2],"labelExpr":"datum.value == -11 ? '10⁻¹¹' : datum.value == -9 ? '10⁻⁹' : datum.value == -7 ? '10⁻⁷' : datum.value == -5 ? '10⁻⁵' : datum.value == -3 ? '10⁻³' : ''","tickCount":100,"labelOverlap":false,"labelBound":false,"tickSize":-5,"domainWidth":2,"labelFontSize":14,"titleFontSize":21,"labelPadding":7,"titleX":-24,"titleY":172,"titleBaseline":"bottom"}},
      "detail":{"field":"s","type":"nominal"}
     }},
    {"mark":{"type":"square","size":30,"filled":true,"opacity":1},
     "encoding":{
      "x":{"field":"v","type":"quantitative"},
      "y":{"field":"l","type":"quantitative"},
      "color":{"field":"s","type":"nominal","sort":null,"scale":{"domain":["0%","0.5%","1%","2%"],"range":["#000000","#ec2226","#5cba47","#2d54a5"]},
        "legend":{"orient":"none","legendX":20,"legendY":21,"title":null,"padding":0,"symbolType":"M-3.6,0H3.6M-0.8,-0.8H0.8V0.8H-0.8Z","symbolSize":100,"symbolOpacity":1,"labelOffset":17,"labelFontSize":14,"labelFontWeight":"bold","labelFont":"Liberation Serif","labelColor":"black","rowPadding":5,
          "labelExpr":"datum.label == '0.5%' ? '0.5%\u00a0S' : datum.label + '\u00a0\u00a0\u00a0\u00a0S'",
          "encode":{"symbols":{"update":{"stroke":{"value":"#8a8a8a"},"strokeWidth":{"value":1}}}}}}
     }}
  ]},
  {"mark":{"type":"square","size":30,"filled":true,"opacity":1},
   "encoding":{
    "x":{"field":"v","type":"quantitative"},
    "y":{"field":"q","type":"quantitative","scale":{"domain":[0,0.2],"range":[339,8],"nice":false},"axis":{"orient":"right","offset":-50,"title":"ID1/2 (A1/2)","values":[0,0.025,0.05,0.075,0.1,0.125,0.15,0.175,0.2],"labelExpr":"datum.value > 0.01 && round(datum.value*1000) % 50 == 0 ? format(datum.value,'.2f') : ''","tickCount":100,"labelOverlap":false,"labelBound":false,"domainColor":"#7b4fb0","tickColor":"#7b4fb0","tickSize":4,"domainWidth":1.5,"labelColor":"#3c5aaa","titleColor":"#3c5aaa","labelFontSize":14,"titleFontSize":16,"labelPadding":2,"titlePadding":4,"titleY":160}},
    "color":{"field":"s","type":"nominal"}
   }}
 ],
 "resolve":{"scale":{"y":"independent"},"axis":{"y":"independent"}}
},
{"width":118,"height":160,"title":{"text":"(b)","dx":-28,"dy":26},
 "layer":[
  {"data":{"name":"b"},"transform":[{"filter":"datum.g < 30"}],"mark":{"type":"line","interpolate":"monotone","strokeWidth":2.2},
   "encoding":{"x":{"field":"v","type":"quantitative","scale":{"domain":[0,30],"nice":false},"axis":{"title":"VD (V)","values":[0,5,10,15,20,25,30],"format":"d","tickCount":100,"labelOverlap":false}},
    "y":{"field":"i","type":"quantitative","scale":{"domain":[0,9],"nice":false},"axis":{"title":"ID (mA)","values":[0,2,4,6,8],"format":"d","tickCount":100,"titleY":60,"labelOverlap":false}},
    "stroke":{"field":"g","type":"nominal","scale":{"domain":[0,5,10,15,20,25],"range":["#111111","#e3191b","#3a5fc8","#cc5ccc","#1e8c3a","#2a2a86"]},"legend":null}}},
  {"data":{"name":"b"},"transform":[{"filter":"datum.g == 30"}],"mark":{"type":"line","interpolate":"monotone","strokeWidth":2,"strokeDash":[2,1.2],"color":"#8a6fdc"},
   "encoding":{"x":{"field":"v","type":"quantitative"},"y":{"field":"i","type":"quantitative"}}},
  {"data":{"values":[{}]},"mark":{"type":"text","align":"left","baseline":"top","fontSize":11,"fontWeight":"bold","lineHeight":15,"color":"black"},
   "encoding":{"x":{"datum":1.3,"type":"quantitative"},"y":{"datum":8.38,"type":"quantitative"},"text":{"value":["0% S","VG=0 to 30 V","step:5 V"]}}}
 ]},
{"width":118,"height":160,"title":{"text":"(c)","dx":-29,"dy":26},
 "layer":[
  {"data":{"name":"c"},"transform":[{"filter":"datum.g < 30"}],"mark":{"type":"line","interpolate":"monotone","strokeWidth":2.2},
   "encoding":{"x":{"field":"v","type":"quantitative","scale":{"domain":[0,30],"nice":false},"axis":{"title":"VD (V)","values":[0,5,10,15,20,25,30],"format":"d","tickCount":100,"labelOverlap":false}},
    "y":{"field":"i","type":"quantitative","scale":{"domain":[0,6],"nice":false},"axis":{"title":"ID (mA)","values":[0,2,4,6],"format":"d","tickCount":100,"titleY":60,"labelOverlap":false}},
    "stroke":{"field":"g","type":"nominal","scale":{"domain":[0,5,10,15,20,25],"range":["#111111","#e3191b","#3a5fc8","#cc5ccc","#1e8c3a","#2a2a86"]},"legend":null}}},
  {"data":{"name":"c"},"transform":[{"filter":"datum.g == 30"}],"mark":{"type":"line","interpolate":"monotone","strokeWidth":2,"strokeDash":[2,1.2],"color":"#8a6fdc"},
   "encoding":{"x":{"field":"v","type":"quantitative"},"y":{"field":"i","type":"quantitative"}}},
  {"data":{"values":[{}]},"mark":{"type":"text","align":"left","baseline":"top","fontSize":11,"fontWeight":"bold","lineHeight":15,"color":"black"},
   "encoding":{"x":{"datum":1.3,"type":"quantitative"},"y":{"datum":5.59,"type":"quantitative"},"text":{"value":["0.5% S","VG=0 to 30 V","step:5 V"]}}}
 ]},
{"width":1,"height":1,"view":{"stroke":null},"data":{"values":[{}]},"mark":{"type":"text"},"encoding":{"text":{"value":""}}},
{"width":118,"height":159,"title":{"text":"(d)","dx":-30,"dy":9},
 "layer":[
  {"data":{"name":"d"},"transform":[{"filter":"datum.g < 30"}],"mark":{"type":"line","interpolate":"monotone","strokeWidth":2.2},
   "encoding":{"x":{"field":"v","type":"quantitative","scale":{"domain":[0,30],"nice":false},"axis":{"title":"VD (V)","values":[0,5,10,15,20,25,30],"format":"d","tickCount":100,"labelOverlap":false}},
    "y":{"field":"i","type":"quantitative","scale":{"domain":[0,5],"nice":false},"axis":{"title":"ID (mA)","values":[0,2,4],"format":"d","tickCount":100,"titleY":58,"labelOverlap":false}},
    "stroke":{"field":"g","type":"nominal","scale":{"domain":[0,5,10,15,20,25],"range":["#111111","#e3191b","#3a5fc8","#cc5ccc","#1e8c3a","#2a2a86"]},"legend":null}}},
  {"data":{"name":"d"},"transform":[{"filter":"datum.g == 30"}],"mark":{"type":"line","interpolate":"monotone","strokeWidth":2,"strokeDash":[2,1.2],"color":"#8a6fdc"},
   "encoding":{"x":{"field":"v","type":"quantitative"},"y":{"field":"i","type":"quantitative"}}},
  {"data":{"values":[{}]},"mark":{"type":"text","align":"left","baseline":"top","fontSize":11,"fontWeight":"bold","lineHeight":18,"color":"black"},
   "encoding":{"x":{"datum":1.0,"type":"quantitative"},"y":{"datum":4.78,"type":"quantitative"},"text":{"value":["1% S","VG=0 to 30 V","step:5 V"]}}}
 ]},
{"width":121,"height":159,"title":{"text":"(e)","dx":-23,"dy":9},
 "layer":[
  {"data":{"name":"e"},"transform":[{"filter":"datum.g < 30"}],"mark":{"type":"line","interpolate":"monotone","strokeWidth":2.2},
   "encoding":{"x":{"field":"v","type":"quantitative","scale":{"domain":[0,30],"nice":false},"axis":{"title":"VD (V)","values":[0,5,10,15,20,25,30],"format":"d","tickCount":100,"labelOverlap":false}},
    "y":{"field":"i","type":"quantitative","scale":{"domain":[0,1.2],"nice":false},"axis":{"title":"ID (mA)","values":[0,0.5,1.0],"tickCount":100,"format":".1f","titlePadding":0,"titleY":58,"labelOverlap":false}},
    "stroke":{"field":"g","type":"nominal","scale":{"domain":[0,5,10,15,20,25],"range":["#111111","#e3191b","#3a5fc8","#cc5ccc","#1e8c3a","#2a2a86"]},"legend":null}}},
  {"data":{"name":"e"},"transform":[{"filter":"datum.g == 30"}],"mark":{"type":"line","interpolate":"monotone","strokeWidth":2,"strokeDash":[2,1.2],"color":"#8a6fdc"},
   "encoding":{"x":{"field":"v","type":"quantitative"},"y":{"field":"i","type":"quantitative"}}},
  {"data":{"values":[{}]},"mark":{"type":"text","align":"left","baseline":"top","fontSize":11,"fontWeight":"bold","lineHeight":17,"color":"black"},
   "encoding":{"x":{"datum":1.2,"type":"quantitative"},"y":{"datum":1.14,"type":"quantitative"},"text":{"value":["2% S","VG=0 to 30 V","step:5 V"]}}}
 ]}
]
}
